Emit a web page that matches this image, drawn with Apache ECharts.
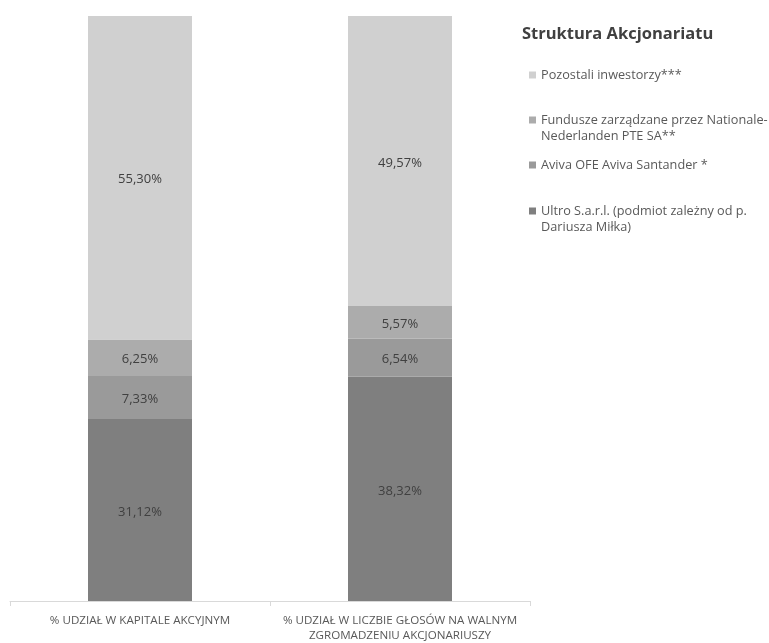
<!DOCTYPE html>
<html><head><meta charset="utf-8">
<script src="https://cdn.jsdelivr.net/npm/echarts@6/dist/echarts.min.js"></script>
<style>html,body{margin:0;padding:0;background:#fff}#c{width:769px;height:643px}</style>
</head><body><div id="c"></div>
<script>
const categories = ['% UDZIAŁ W KAPITALE AKCYJNYM', '% UDZIAŁ W LICZBIE GŁOSÓW NA WALNYM\nZGROMADZENIU AKCJONARIUSZY'];
const seriesNames = ['Ultro S.a.r.l. (podmiot zależny od p. Dariusza Miłka)', 'Aviva OFE Aviva Santander *', 'Fundusze zarządzane przez Nationale-Nederlanden PTE SA**', 'Pozostali inwestorzy***'];
const legendLabels = ['Ultro S.a.r.l. (podmiot zależny od p.\nDariusza Miłka)', 'Aviva OFE Aviva Santander *', 'Fundusze zarządzane przez Nationale-\nNederlanden PTE SA**', 'Pozostali inwestorzy***'];
const ultro = [31.12, 38.32];
const aviva = [7.33, 6.54];
const nn = [6.25, 5.57];
const pozostali = [55.30, 49.57];
const values = [ultro, aviva, nn, pozostali];
const colors = ['#7f7f7f', '#9a9a9a', '#acacac', '#d0d0d0'];
const legendTops = [203, 157, 112, 67];
const font = '"Open Sans", "Noto Sans", sans-serif';
const LH = 16;

const chart = echarts.init(document.getElementById('c'));
chart.setOption({
  animation: false,
  textStyle: { fontFamily: font },
  title: { text: 'Struktura Akcjonariatu', left: 517, top: 21, textStyle: { fontFamily: font, fontSize: 16.5, fontWeight: 'bold', color: '#404040' } },
  grid: { left: 10, right: 239, top: 16, bottom: 39, containLabel: false },
  legend: seriesNames.map((n, i) => {
    const lines = legendLabels[i].split('\n').length;
    const h = lines * LH;
    const icon = lines > 1 ? 'path://M0,4.5L7,4.5L7,11.5L0,11.5Z M0,0L0,0 M0,' + h + 'L0,' + h : 'rect';
    return {
      data: [n], left: 529, top: legendTops[i], orient: 'vertical', padding: 0,
      itemWidth: 7, itemHeight: lines > 1 ? h : 7, itemGap: 4, icon: icon,
      formatter: () => legendLabels[i],
      textStyle: { fontFamily: font, fontSize: 12.7, color: '#595959', lineHeight: LH }
    };
  }),
  xAxis: {
    type: 'category', data: categories,
    axisLine: { lineStyle: { color: '#d9d9d9' } },
    axisTick: { show: true, length: 5, lineStyle: { color: '#d9d9d9' } },
    axisLabel: { color: '#595959', fontSize: 11.6, margin: 12, lineHeight: 15, interval: 0 }
  },
  yAxis: { type: 'value', min: 0, max: 100, show: false, splitLine: { show: false } },
  series: seriesNames.map((n, i) => ({
    name: n, type: 'bar', stack: 'a', barWidth: '40%', data: values[i],
    itemStyle: { color: colors[i] },
    label: { show: true, position: 'inside', offset: [0, 2], color: '#404040', fontSize: 13, fontFamily: font,
      formatter: p => p.value.toFixed(2).replace('.', ',') + '%' }
  }))
});
</script></body></html>
